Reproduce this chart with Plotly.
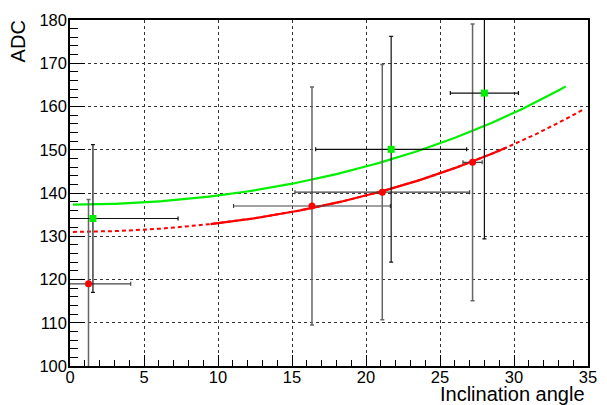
import numpy as np
import plotly.graph_objects as go

# Measured points: red set
red_angle = [1.25, 16.35, 21.1, 27.2]
red_angle_err = [2.85, 5.3, 5.9, 0.65]
red_adc = [119.0, 137.0, 140.2, 147.1]
red_adc_err = [19.5, 27.5, 29.5, 32.0]

# Measured points: green set
green_angle = [1.55, 21.7, 28.0]
green_angle_err = [5.75, 5.1, 2.3]
green_adc = [134.1, 150.1, 163.1]
green_adc_err = [17.1, 26.1, 33.7]

# Fit results, ADC = p0 / cos(angle)
red_p0 = 131.0
green_p0 = 137.3
red_fit_range = (9.5, 29.5)
red_draw_range = (0.2, 34.6)
green_draw_range = (0.2, 33.5)


def sec_curve(p0, lo, hi, n=200):
    t = np.linspace(lo, hi, n)
    return t, p0 / np.cos(np.radians(t))


fig = go.Figure()

xr, yr = sec_curve(red_p0, *red_draw_range)
fig.add_trace(go.Scatter(x=xr, y=yr, mode="lines",
                         line=dict(color="#ff0000", width=2, dash="4px,3px"),
                         hoverinfo="skip"))
xr, yr = sec_curve(red_p0, *red_fit_range)
fig.add_trace(go.Scatter(x=xr, y=yr, mode="lines",
                         line=dict(color="#ff0000", width=2.2),
                         hoverinfo="skip"))
xg, yg = sec_curve(green_p0, *green_draw_range)
fig.add_trace(go.Scatter(x=xg, y=yg, mode="lines",
                         line=dict(color="#00f000", width=2.2),
                         hoverinfo="skip"))

fig.add_trace(go.Scatter(
    x=red_angle, y=red_adc, mode="markers",
    marker=dict(symbol="circle", size=7, color="#ff0000"),
    error_x=dict(type="data", array=red_angle_err, color="#444444", thickness=1.2, width=2),
    error_y=dict(type="data", array=red_adc_err, color="#666666", thickness=1.5, width=2),
))
fig.add_trace(go.Scatter(
    x=green_angle, y=green_adc, mode="markers",
    marker=dict(symbol="square", size=7, color="#00ee00"),
    error_x=dict(type="data", array=green_angle_err, color="#111111", thickness=1.2, width=2),
    error_y=dict(type="data", array=green_adc_err, color="#111111", thickness=1.2, width=2),
))

axis_font = dict(family="Liberation Sans, Arial, sans-serif", size=16.5, color="black")
title_font = dict(family="Liberation Sans, Arial, sans-serif", size=20, color="black")

fig.update_layout(
    width=607, height=405,
    margin=dict(l=70, r=10, t=20, b=39),
    paper_bgcolor="white", plot_bgcolor="white",
    showlegend=False,
    xaxis=dict(
        range=[0, 35], dtick=5, tick0=0,
        showline=True, linecolor="black", linewidth=1.5, mirror=True,
        ticks="inside", ticklen=11, tickcolor="black", tickwidth=1,
        minor=dict(dtick=1, ticks="inside", ticklen=6, tickcolor="black", showgrid=False),
        showgrid=True, gridcolor="#333333", griddash="dot", gridwidth=1,
        zeroline=False, tickfont=axis_font, ticklabelstandoff=-5,
    ),
    yaxis=dict(
        range=[100, 180], dtick=10, tick0=100,
        showline=True, linecolor="black", linewidth=1.5, mirror=True,
        ticks="inside", ticklen=15, tickcolor="black", tickwidth=1,
        minor=dict(dtick=2, ticks="inside", ticklen=8, tickcolor="black", showgrid=False),
        showgrid=True, gridcolor="#333333", griddash="dot", gridwidth=1,
        zeroline=False, tickfont=axis_font, ticklabelstandoff=-2,
    ),
    annotations=[
        dict(text="Inclination angle", xref="paper", yref="paper",
             x=0.999, y=-0.0815, xanchor="right", yanchor="middle", showarrow=False,
             font=title_font),
        dict(text="ADC", xref="paper", yref="paper", textangle=-90,
             x=-0.0996, y=1.0058, xanchor="center", yanchor="top", showarrow=False,
             font=title_font),
    ],
)

fig.write_html("out.html")
